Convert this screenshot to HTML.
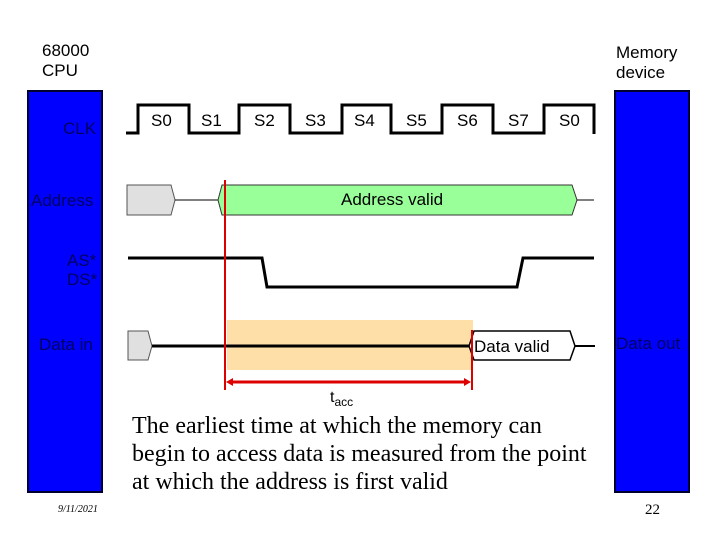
<!DOCTYPE html>
<html><head><style>
body{margin:0;width:720px;height:540px;background:#fff;position:relative;overflow:hidden;font-family:"Liberation Sans",sans-serif}
.t{position:absolute;white-space:nowrap}
</style></head><body>
<svg width="720" height="540" style="position:absolute;left:0;top:0">
<rect x="28" y="91" width="74" height="401" fill="#0000ff" stroke="#000030" stroke-width="2"/>
<rect x="615" y="91" width="74" height="401" fill="#0000ff" stroke="#000030" stroke-width="2"/>
<polyline points="126,133 138,133 138,105 189,105 189,133 239,133 239,105 290,105 290,133 342,133 342,105 391,105 391,133 442,133 442,105 493,105 493,133 544,133 544,105 594,105 594,134" fill="none" stroke="#000" stroke-width="3"/>
<polygon points="127,185 171,185 175,200 171,215 127,215" fill="#e0e0e0" stroke="#555" stroke-width="1"/>
<line x1="175" y1="200" x2="218" y2="200" stroke="#000"/>
<polygon points="222,185 572,185 577,200 572,215 222,215 218,200" fill="#99ff99" stroke="#333" stroke-width="1"/>
<line x1="577" y1="200" x2="594" y2="200" stroke="#000"/>
<rect x="227" y="320" width="246" height="50" fill="#ffdfa8"/>
<polyline points="128,258 262,258 267,287 517,287 523,258 594,258" fill="none" stroke="#000" stroke-width="3"/>
<polygon points="128,331 148,331 152,346 148,360 128,360" fill="#e0e0e0" stroke="#555" stroke-width="1"/>
<line x1="152" y1="346" x2="469" y2="346" stroke="#000" stroke-width="3"/>
<polygon points="474,331 570,331 575,346 570,360 474,360 469,346" fill="#fff" stroke="#000" stroke-width="1.5"/>
<line x1="575" y1="346" x2="595" y2="346" stroke="#000" stroke-width="2"/>
<line x1="225" y1="180" x2="225" y2="390" stroke="#dd0000" stroke-width="2"/>
<line x1="472" y1="330" x2="472" y2="390" stroke="#dd0000" stroke-width="2"/>
<line x1="230" y1="382" x2="467" y2="382" stroke="#dd0000" stroke-width="3"/>
<polygon points="226,382 233,378 233,386" fill="#dd0000"/>
<polygon points="471,382 464,378 464,386" fill="#dd0000"/>
</svg>
<div class="t" style="left:42px;top:41px;font-size:17px;line-height:20px">68000<br>CPU</div>
<div class="t" style="left:616px;top:43px;font-size:17px;line-height:20px">Memory<br>device</div>
<div class="t" style="left:63px;top:119px;font-size:17px;color:#000060">CLK</div>
<div class="t" style="left:31px;top:191px;font-size:17px;color:#000060">Address</div>
<div class="t" style="left:67px;top:251px;font-size:17px;line-height:19px;color:#000060">AS*<br>DS*</div>
<div class="t" style="left:39px;top:335px;font-size:17px;color:#000060">Data in</div>
<div class="t" style="left:616px;top:334px;font-size:17px;color:#000060">Data out</div>
<div class="t" style="left:151px;top:111px;font-size:17px">S0</div>
<div class="t" style="left:201px;top:111px;font-size:17px">S1</div>
<div class="t" style="left:254px;top:111px;font-size:17px">S2</div>
<div class="t" style="left:305px;top:111px;font-size:17px">S3</div>
<div class="t" style="left:354px;top:111px;font-size:17px">S4</div>
<div class="t" style="left:406px;top:111px;font-size:17px">S5</div>
<div class="t" style="left:457px;top:111px;font-size:17px">S6</div>
<div class="t" style="left:508px;top:111px;font-size:17px">S7</div>
<div class="t" style="left:559px;top:111px;font-size:17px">S0</div>
<div class="t" style="left:341px;top:190px;font-size:17px">Address valid</div>
<div class="t" style="left:474px;top:337px;font-size:17px">Data valid</div>
<div class="t" style="left:330px;top:389px;font-size:16px">t<span style="font-size:12px;vertical-align:-4px">acc</span></div>
<div class="t" style="left:132px;top:412px;font-family:'Liberation Serif',serif;font-size:24px;line-height:28px">The earliest time at which the memory can<br>begin to access data is measured from the point<br>at which the address is first valid</div>
<div class="t" style="left:58px;top:504px;font-family:'Liberation Serif',serif;font-size:10px;font-style:italic">9/11/2021</div>
<div class="t" style="left:645px;top:502px;font-family:'Liberation Serif',serif;font-size:15px">22</div>
</body></html>
